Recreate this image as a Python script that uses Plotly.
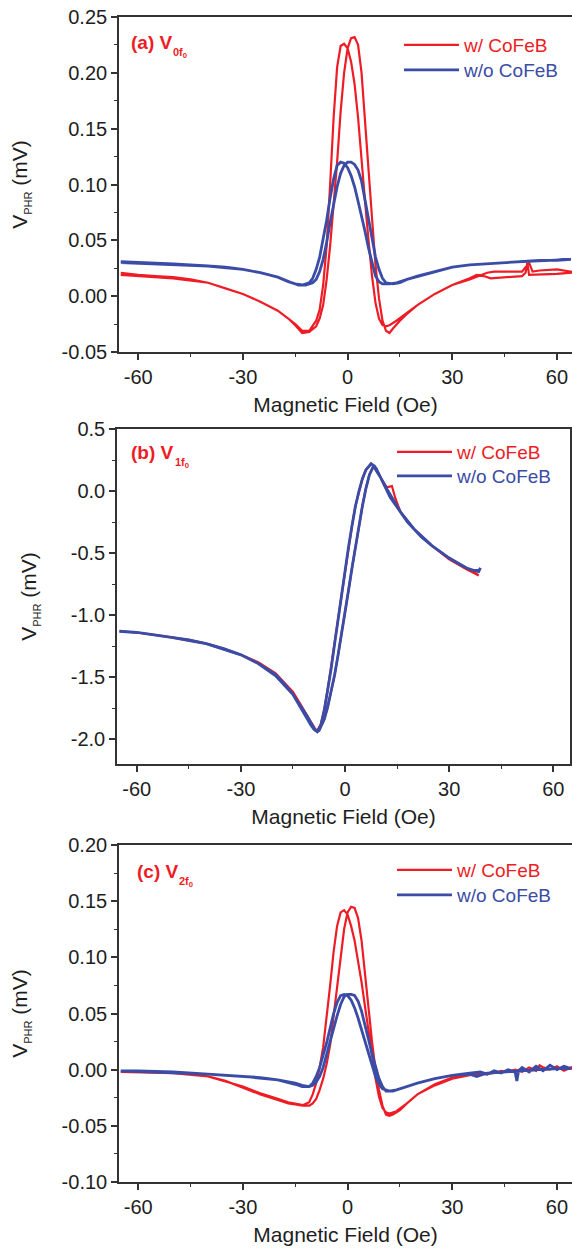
import plotly.graph_objects as go

# ---------------- data ----------------
# Panel (a)  V_0f0  -- hysteresis loops (sweep up then sweep back)
a_red_x = [-65, -60, -55, -50, -45, -40, -35, -30, -25, -20, -17, -15, -13, -11, -9, -8, -7, -6, -5, -4, -3, -2, -1, 0,
           1, 2, 3, 4, 5, 6, 7, 8, 9, 10, 11, 12, 14, 17, 20, 25, 30, 35, 38, 40, 42, 45, 50, 52, 53, 55, 60, 64,
           64, 60, 55, 52, 51.5, 51, 50, 45, 43, 41, 39, 37, 35, 30, 25, 20, 17, 15, 13, 12, 11, 10, 9, 8, 7, 6, 5,
           4, 3, 2, 1, 0, -1, -2, -3, -4, -5, -6, -7, -8, -9, -11, -13, -15, -17, -20, -25, -30, -35, -40, -50, -60,
           -65]
a_red_y = [0.021, 0.019, 0.018, 0.017, 0.015, 0.012, 0.007, 0.002, -0.005, -0.013, -0.020, -0.025, -0.031, -0.031,
           -0.022, -0.012, 0.010, 0.045, 0.100, 0.160, 0.205, 0.224, 0.226, 0.222, 0.210, 0.190, 0.160, 0.120, 0.085,
           0.050, 0.018, -0.006, -0.020, -0.026, -0.027, -0.026, -0.022, -0.015, -0.008, 0.002, 0.010, 0.015, 0.019,
           0.021, 0.022, 0.022, 0.022, 0.030, 0.022, 0.023, 0.024, 0.022,
           0.021, 0.020, 0.019, 0.019, 0.030, 0.021, 0.018, 0.017, 0.016, 0.016, 0.018, 0.019, 0.016, 0.010, 0.002,
           -0.008, -0.016, -0.022, -0.029, -0.033, -0.031, -0.022, -0.002, 0.028, 0.070, 0.115, 0.160, 0.200, 0.225,
           0.232, 0.231, 0.222, 0.200, 0.165, 0.120, 0.080, 0.045, 0.015, -0.008, -0.020, -0.027, -0.032, -0.033,
           -0.026, -0.020, -0.013, -0.005, 0.002, 0.007, 0.012, 0.016, 0.018, 0.019]
a_blue_x = [-65, -55, -45, -40, -35, -30, -25, -20, -17, -15, -13, -11, -10, -9, -8, -7, -6, -5, -4, -3, -2, -1, 0, 1,
            2, 3, 4, 5, 6, 7, 8, 9, 10, 12, 14, 16, 20, 25, 30, 35, 40, 45, 50, 55, 60, 64,
            64, 58, 50, 45, 40, 35, 30, 25, 20, 17, 15, 13, 11, 10, 9, 8, 7, 6, 5, 4, 3, 2, 1, 0, -1, -2, -3, -4, -5,
            -6, -7, -8, -9, -10, -12, -14, -16, -20, -25, -30, -40, -50, -60, -65]
a_blue_y = [0.030, 0.029, 0.028, 0.027, 0.026, 0.024, 0.021, 0.017, 0.013, 0.011, 0.010, 0.012, 0.016, 0.024, 0.035,
            0.050, 0.068, 0.088, 0.105, 0.117, 0.120, 0.119, 0.115, 0.108, 0.098, 0.085, 0.072, 0.058, 0.043, 0.029,
            0.018, 0.013, 0.011, 0.011, 0.012, 0.014, 0.018, 0.022, 0.026, 0.028, 0.029, 0.030, 0.031, 0.032, 0.032,
            0.033,
            0.033, 0.032, 0.031, 0.030, 0.029, 0.028, 0.026, 0.022, 0.018, 0.015, 0.012, 0.011, 0.012, 0.016, 0.024,
            0.035, 0.052, 0.070, 0.088, 0.103, 0.113, 0.118, 0.120, 0.120, 0.117, 0.110, 0.098, 0.083, 0.066, 0.048,
            0.033, 0.022, 0.015, 0.012, 0.010, 0.010, 0.012, 0.017, 0.021, 0.024, 0.027, 0.029, 0.030, 0.031]

# Panel (b)  V_1f0
b_red_x = [-65, -60, -55, -50, -45, -40, -35, -30, -25, -20, -17, -15, -13, -11, -10, -9, -8.5, -8, -7, -6, -5, -4,
           -3, -2, -1, 0, 1, 2, 3, 4, 5, 6, 7, 7.5, 8, 9, 10, 12, 13.5, 14.5, 16, 18, 20, 22, 25, 28, 30, 33, 35, 37,
           38.5,
           38.5, 37, 35, 30, 25, 20, 16, 13, 11, 10, 9, 8.5, 8, 7, 6, 5, 4, 3, 2, 1, 0, -1, -2, -3, -4, -5, -6, -7,
           -7.5, -8, -9, -10, -12, -15, -20, -25, -30, -40, -50, -60, -65]
b_red_y = [-1.13, -1.14, -1.16, -1.18, -1.20, -1.23, -1.27, -1.32, -1.38, -1.47, -1.56, -1.62, -1.71, -1.80, -1.85,
           -1.90, -1.93, -1.93, -1.88, -1.76, -1.60, -1.42, -1.22, -1.03, -0.84, -0.64, -0.45, -0.28, -0.12, 0.00,
           0.10, 0.17, 0.21, 0.22, 0.21, 0.17, 0.12, 0.03, 0.04, -0.06, -0.17, -0.25, -0.31, -0.37, -0.44, -0.50,
           -0.54, -0.59, -0.62, -0.65, -0.68,
           -0.68, -0.66, -0.63, -0.55, -0.44, -0.31, -0.17, -0.05, 0.07, 0.13, 0.18, 0.20, 0.19, 0.13, 0.02, -0.12,
           -0.28, -0.45, -0.62, -0.80, -0.98, -1.15, -1.32, -1.48, -1.62, -1.74, -1.84, -1.91, -1.93, -1.93, -1.91,
           -1.87, -1.77, -1.63, -1.48, -1.39, -1.32, -1.23, -1.18, -1.14, -1.13]
b_blue_x = [-65, -60, -55, -50, -45, -40, -35, -30, -25, -20, -17, -15, -13, -11, -10, -9, -8.5, -8, -7, -6, -5, -4,
            -3, -2, -1, 0, 1, 2, 3, 4, 5, 6, 7, 7.5, 8, 9, 10, 12, 14, 16, 18, 20, 22, 25, 28, 30, 33, 35, 37, 38.5,
            39, 38.5, 37, 35, 30, 25, 20, 16, 13, 11, 10, 9, 8.5, 8, 7, 6, 5, 4, 3, 2, 1, 0, -1, -2, -3, -4, -5, -6,
            -7, -7.5, -8, -9, -10, -12, -15, -20, -25, -30, -40, -50, -60, -65]
b_blue_y = [-1.13, -1.14, -1.16, -1.18, -1.20, -1.23, -1.27, -1.32, -1.39, -1.48, -1.57, -1.64, -1.72, -1.81, -1.86,
            -1.91, -1.93, -1.94, -1.89, -1.77, -1.61, -1.43, -1.23, -1.03, -0.84, -0.64, -0.45, -0.28, -0.12, 0.00,
            0.10, 0.17, 0.21, 0.22, 0.21, 0.17, 0.12, 0.02, -0.08, -0.17, -0.25, -0.31, -0.37, -0.44, -0.50, -0.54,
            -0.59, -0.62, -0.64, -0.65, -0.62,
            -0.64, -0.64, -0.62, -0.54, -0.44, -0.31, -0.17, -0.05, 0.07, 0.13, 0.18, 0.20, 0.19, 0.13, 0.02, -0.12,
            -0.28, -0.45, -0.62, -0.80, -0.98, -1.15, -1.32, -1.48, -1.62, -1.74, -1.84, -1.91, -1.93, -1.94, -1.92,
            -1.88, -1.78, -1.64, -1.49, -1.39, -1.32, -1.23, -1.18, -1.14, -1.13]

# Panel (c)  V_2f0
c_red_x = [-65, -60, -55, -50, -45, -40, -35, -30, -25, -20, -17, -15, -13, -11, -10, -9, -8, -7, -6, -5, -4, -3, -2,
           -1, 0, 1, 2, 3, 4, 5, 6, 7, 8, 9, 10, 11, 12, 14, 17, 20, 25, 30, 35, 40, 45, 50, 55, 60, 64,
           64, 62, 60, 58, 56, 55, 54, 52, 50, 48, 46, 44, 42, 40, 37, 35, 30, 25, 20, 17, 15, 13, 12, 11, 10, 9, 8,
           7, 6, 5, 4, 3, 2, 1, 0, -1, -2, -3, -4, -5, -6, -7, -8, -9, -10, -11, -12, -14, -17, -20, -25, -30, -40,
           -50, -60, -65]
c_red_y = [-0.002, -0.002, -0.002, -0.003, -0.004, -0.006, -0.010, -0.016, -0.022, -0.027, -0.030, -0.031, -0.032,
           -0.029, -0.022, -0.012, 0.002, 0.020, 0.045, 0.075, 0.105, 0.128, 0.140, 0.142, 0.138, 0.128, 0.115,
           0.098, 0.078, 0.056, 0.034, 0.012, -0.008, -0.024, -0.034, -0.038, -0.039, -0.037, -0.030, -0.022, -0.013,
           -0.007, -0.004, -0.003, -0.002, -0.001, 0.000, 0.001, 0.001,
           0.002, -0.001, 0.003, 0.000, 0.002, 0.004, -0.001, 0.002, -0.002, 0.000, -0.002, -0.001, -0.003, -0.004,
           -0.004, -0.005, -0.008, -0.014, -0.022, -0.030, -0.036, -0.040, -0.041, -0.040, -0.032, -0.018, 0.000,
           0.025, 0.055, 0.088, 0.115, 0.135, 0.144, 0.145, 0.140, 0.125, 0.100, 0.072, 0.045, 0.022, 0.005, -0.008,
           -0.018, -0.026, -0.030, -0.032, -0.032, -0.031, -0.029, -0.026, -0.021, -0.015, -0.006, -0.003, -0.002,
           -0.002]
c_blue_x = [-65, -55, -45, -40, -35, -30, -25, -20, -17, -15, -13, -11, -10, -9, -8, -7, -6, -5, -4, -3, -2, -1, 0, 1,
            2, 3, 4, 5, 6, 7, 8, 9, 10, 12, 14, 17, 20, 25, 30, 35, 38, 40, 42, 44, 46, 48, 48.5, 49, 50, 52, 54, 56,
            58, 60, 62, 64,
            64, 60, 55, 50, 45, 40, 37, 35, 30, 25, 20, 17, 15, 13, 11, 10, 9, 8, 7, 6, 5, 4, 3, 2, 1, 0, -1, -2, -3,
            -4, -5, -6, -7, -8, -9, -10, -11, -13, -15, -20, -30, -40, -50, -60, -65]
c_blue_y = [-0.001, -0.002, -0.003, -0.004, -0.005, -0.006, -0.007, -0.009, -0.011, -0.013, -0.015, -0.015, -0.012,
            -0.006, 0.002, 0.012, 0.024, 0.037, 0.050, 0.060, 0.066, 0.067, 0.066, 0.062, 0.055, 0.046, 0.036, 0.026,
            0.015, 0.004, -0.006, -0.013, -0.017, -0.019, -0.018, -0.015, -0.012, -0.008, -0.005, -0.003, -0.002,
            -0.004, -0.001, -0.003, 0.000, -0.002, -0.010, -0.001, 0.002, -0.002, 0.003, -0.001, 0.004, 0.000, 0.003,
            0.001,
            0.001, 0.001, 0.000, -0.001, -0.002, -0.003, -0.006, -0.004, -0.005, -0.008, -0.012, -0.015, -0.017,
            -0.019, -0.019, -0.015, -0.008, 0.002, 0.014, 0.027, 0.040, 0.052, 0.061, 0.066, 0.067, 0.067, 0.065,
            0.058, 0.048, 0.036, 0.024, 0.012, 0.002, -0.006, -0.011, -0.014, -0.015, -0.014, -0.012, -0.009, -0.006,
            -0.004, -0.002, -0.001, -0.001]

series_names = ["w/ CoFeB", "w/o CoFeB"]
panel_labels = ["(a) V", "(b) V", "(c) V"]
panel_subs = ["0f", "1f", "2f"]

x_ticks = [-60, -30, 0, 30, 60]
x_ticklabels = ["-60", "-30", "0", "30", "60"]
a_yticks = [-0.05, 0.00, 0.05, 0.10, 0.15, 0.20, 0.25]
a_yticklabels = ["-0.05", "0.00", "0.05", "0.10", "0.15", "0.20", "0.25"]
b_yticks = [-2.0, -1.5, -1.0, -0.5, 0.0, 0.5]
b_yticklabels = ["-2.0", "-1.5", "-1.0", "-0.5", "0.0", "0.5"]
c_yticks = [-0.10, -0.05, 0.00, 0.05, 0.10, 0.15, 0.20]
c_yticklabels = ["-0.10", "-0.05", "0.00", "0.05", "0.10", "0.15", "0.20"]

# ---------------- styling ----------------
RED = "#ee1c25"
BLUE = "#3a4ca6"
AXC = "#333333"
TXT = "#1e1e1e"
FONT = "Liberation Sans, Arial, sans-serif"
W, H = 572, 1251
ITEMW = 55

def px_x(p):
    return p / W

def px_y(p):
    return 1 - p / H

# panel geometry (pixels)
panels = [
    dict(x0=119, x1=572, y0=17, y1=352, xr=[-65.5, 64.3], yr=[-0.05, 0.25], yt=a_yticks, ytl=a_yticklabels,
         ymin=0.025, red=(a_red_x, a_red_y), blue=(a_blue_x, a_blue_y), lab_x=129, lab_y=42, sub_x=171,
         leg_x=464, leg_y=(45, 70)),
    dict(x0=117, x1=570, y0=429, y1=764, xr=[-65.7, 64.8], yr=[-2.2, 0.5], yt=b_yticks, ytl=b_yticklabels,
         ymin=0.25, red=(b_red_x, b_red_y), blue=(b_blue_x, b_blue_y), lab_x=129, lab_y=452, sub_x=173,
         leg_x=457, leg_y=(452, 476)),
    dict(x0=119, x1=572, y0=845, y1=1182, xr=[-65.5, 64.3], yr=[-0.10, 0.20], yt=c_yticks, ytl=c_yticklabels,
         ymin=0.025, red=(c_red_x, c_red_y), blue=(c_blue_x, c_blue_y), lab_x=135, lab_y=871, sub_x=177,
         leg_x=457, leg_y=(870, 895)),
]

fig = go.Figure()
layout = dict(
    width=W, height=H, autosize=False,
    margin=dict(l=0, r=0, t=0, b=0),
    paper_bgcolor="white", plot_bgcolor="white",
    font=dict(family=FONT, size=19, color=TXT),
    annotations=[],
)

leg_count = 0
for i, p in enumerate(panels):
    k = "" if i == 0 else str(i + 1)
    xa, ya = "x" + k, "y" + k
    for j, ((xs, ys), col, wd) in enumerate([(p["red"], RED, 2.2), (p["blue"], BLUE, 2.8)]):
        leg_count += 1
        leg = "legend" if leg_count == 1 else "legend" + str(leg_count)
        nm = series_names[j]
        fig.add_trace(go.Scatter(
            x=xs, y=ys, mode="lines", xaxis=xa, yaxis=ya,
            line=dict(color=col, width=wd),
            name=f"<span style='color:{col}'>{nm}</span>",
            legend=leg, showlegend=True,
        ))
        layout[leg] = dict(
            x=px_x(p["leg_x"] - 10 - ITEMW), y=px_y(p["leg_y"][j]), xanchor="left", yanchor="middle",
            bgcolor="rgba(0,0,0,0)", borderwidth=0, font=dict(size=19, family=FONT),
            itemwidth=ITEMW,
        )
    layout["xaxis" + k] = dict(
        domain=[px_x(p["x0"]), px_x(p["x1"])], range=p["xr"], anchor=ya,
        showgrid=False, zeroline=False, showline=True, linecolor=AXC, linewidth=1.6, mirror=True,
        ticks="outside", ticklen=6, tickwidth=1.6, tickcolor=AXC,
        tickmode="array", tickvals=x_ticks, ticktext=x_ticklabels,
        minor=dict(ticks="outside", ticklen=3, tickwidth=1.4, tickcolor=AXC, tickmode="linear", tick0=0, dtick=15),
        tickfont=dict(size=20, color=TXT, family=FONT),
        title=dict(text="Magnetic Field (Oe)", font=dict(size=21, color=TXT, family=FONT), standoff=11),
        automargin=False, fixedrange=True,
    )
    layout["yaxis" + k] = dict(
        domain=[px_y(p["y1"]), px_y(p["y0"])], range=p["yr"], anchor=xa,
        showgrid=False, zeroline=False, showline=True, linecolor=AXC, linewidth=1.6, mirror=True,
        ticks="outside", ticklen=6, tickwidth=1.6, tickcolor=AXC,
        tickmode="array", tickvals=p["yt"], ticktext=p["ytl"],
        minor=dict(ticks="outside", ticklen=3, tickwidth=1.4, tickcolor=AXC, tickmode="linear", tick0=0,
                   dtick=p["ymin"]),
        tickfont=dict(size=20, color=TXT, family=FONT),
        title=dict(text="V<sub><span style='font-size:11px'>PHR</span></sub> (mV)",
                   font=dict(size=21, color=TXT, family=FONT), standoff=28),
        automargin=False, fixedrange=True,
    )
    # panel label "(x) V" with its subscript "nf0"
    layout["annotations"].append(dict(
        xref="paper", yref="paper", x=px_x(p["lab_x"]), y=px_y(p["lab_y"]),
        xanchor="left", yanchor="middle", showarrow=False,
        text=f"<b>{panel_labels[i]}</b>",
        font=dict(size=19, color=RED, family=FONT),
    ))
    layout["annotations"].append(dict(
        xref="paper", yref="paper", x=px_x(p["sub_x"]), y=px_y(p["lab_y"] + 11),
        xanchor="left", yanchor="middle", showarrow=False,
        text=f"<b>{panel_subs[i]}<sub>0</sub></b>",
        font=dict(size=11, color=RED, family=FONT),
    ))

fig.update_layout(**layout)
fig.write_html(
    "out.html",
    config={"displayModeBar": False},
    post_script="document.body.style.margin='0';document.body.style.padding='0';"
                "document.body.style.overflow='hidden';",
)
